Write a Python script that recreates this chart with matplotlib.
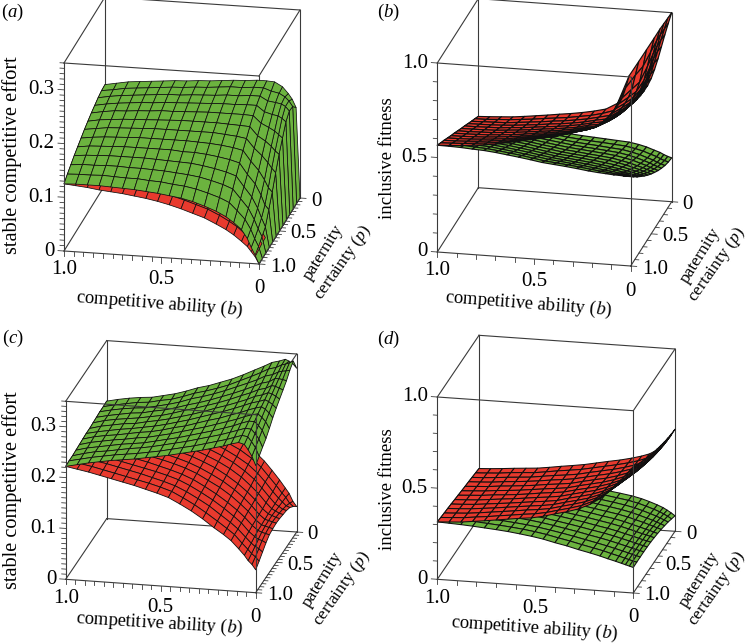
import numpy as np
import matplotlib
matplotlib.use("Agg")
import matplotlib.pyplot as plt
from mpl_toolkits.mplot3d.art3d import Poly3DCollection

plt.rcParams['font.family'] = ['Liberation Serif', 'DejaVu Serif']
plt.rcParams['mathtext.fontset'] = 'custom'
plt.rcParams['mathtext.rm'] = 'Liberation Serif'
plt.rcParams['mathtext.it'] = 'Liberation Serif:italic'

# grid nodes of every surface
B_NODES = [1, .94, .88, .82, .76, .70, .64, .58, .52, .46, .40, .34, .28, .22, .17, .13, .09, .06, .04, .02, 0]
P_NODES = [1, .917, .833, .75, .667, .583, .5, .417, .333, .25, .167, .083, 0]

# values, in thousandths: one line per b node, p running from 1 to 0
A_GREEN = [
[125,133,140,147,153,159,165,170,175,179,183,186,187],
[126,134,142,149,156,162,168,174,179,183,187,189,191],
[126,134,142,150,157,164,171,176,182,186,190,193,195],
[126,135,143,151,158,165,172,178,183,188,192,195,197],
[125,134,143,151,159,166,173,179,185,190,194,197,199],
[124,133,142,151,159,167,174,180,186,191,196,199,201],
[123,133,142,151,159,167,175,181,188,193,198,201,203],
[121,131,141,150,159,167,175,182,188,194,198,202,204],
[119,130,140,149,159,167,175,183,189,195,200,204,206],
[116,127,138,148,157,167,175,183,190,196,201,205,207],
[113,125,136,147,157,166,175,183,191,197,202,207,209],
[108,121,133,144,155,165,175,183,191,198,204,209,211],
[101,115,128,140,152,163,173,182,191,198,204,209,212],
[93,108,122,135,148,160,171,181,191,199,206,211,214],
[84,100,115,129,143,156,168,180,190,199,206,211,214],
[74,86,98,110,123,137,151,164,177,188,198,206,213],
[62,71,81,92,106,121,138,155,170,184,196,203,205],
[46,53,61,72,86,104,126,146,164,182,194,197,193],
[30,36,44,54,68,90,116,138,158,178,190,190,183],
[16,22,30,38,60,82,108,132,152,172,182,180,168],
[0,0,0,0,0,0,0,0,0,0,0,0,0],
]
A_RED = [
[125,133,140,147,153,159,165,170,175,179,183,186,187],
[123,130,137,144,150,156,162,167,171,175,179,182,183],
[121,128,135,141,147,153,158,163,168,172,175,178,179],
[118,125,132,138,144,150,155,160,164,168,171,174,175],
[116,123,129,135,141,147,152,156,160,164,167,170,171],
[114,120,127,133,138,143,148,153,157,160,163,166,167],
[111,117,123,129,134,139,144,148,152,156,159,161,162],
[108,114,120,125,130,135,140,144,148,151,154,156,157],
[104,110,115,121,126,131,135,139,143,146,149,151,152],
[99,105,110,116,121,126,130,134,138,141,144,146,147],
[93,99,104,109,114,119,123,127,131,134,137,139,140],
[86,92,97,102,107,112,116,120,124,127,130,132,133],
[79,85,90,95,100,105,109,113,116,119,122,124,125],
[69,75,80,85,90,95,99,103,106,109,112,114,115],
[60,65,71,76,81,85,89,93,96,99,102,104,105],
[51,56,61,65,70,74,77,81,84,87,89,91,92],
[40,44,48,52,56,59,63,66,68,71,73,74,75],
[31,35,38,41,44,47,50,52,54,56,58,59,60],
[22,25,27,30,32,35,37,39,41,42,43,44,45],
[13,15,17,18,20,22,24,25,26,26,27,28,28],
[0,0,0,0,0,0,0,0,0,0,0,0,0],
]
B_GREEN = [
[565,549,534,518,502,487,471,455,440,424,408,393,377],
[564,547,531,514,498,481,465,449,432,416,400,385,369],
[562,544,527,509,492,475,458,441,425,408,392,376,361],
[558,540,521,503,486,468,451,434,417,401,384,369,354],
[555,536,517,498,479,461,444,426,409,393,377,361,347],
[549,529,509,490,472,453,435,418,401,385,369,354,340],
[541,521,501,482,463,444,427,409,392,376,361,347,334],
[533,513,492,473,454,435,417,400,383,367,353,339,327],
[524,503,483,463,444,425,408,391,374,359,344,331,320],
[514,493,473,454,435,416,399,382,366,351,337,325,315],
[508,487,467,447,428,410,392,376,360,345,332,320,311],
[502,481,460,440,421,403,386,369,354,340,327,316,307],
[495,474,453,433,414,396,379,363,348,334,321,311,303],
[487,466,445,425,406,388,372,356,341,328,316,306,299],
[482,460,438,418,398,380,363,346,331,318,306,296,290],
[479,456,433,412,391,372,354,337,322,308,296,286,280],
[476,451,427,404,383,362,343,325,309,295,282,272,266],
[475,449,424,400,377,355,335,317,300,285,272,262,256],
[474,447,420,395,371,349,328,309,291,276,262,252,246],
[473,445,418,392,367,344,322,303,285,269,255,244,238],
[473,444,415,389,363,339,317,297,278,262,248,238,232],
]
B_RED = [
[565,549,534,518,502,487,471,455,440,424,408,393,377],
[568,552,535,519,503,487,471,456,440,425,410,394,380],
[572,555,538,521,505,489,473,457,442,426,412,398,384],
[578,560,542,525,508,491,475,459,443,429,414,401,388],
[585,566,548,530,513,496,480,464,449,433,420,407,395],
[593,574,555,536,519,501,485,469,453,439,426,413,403],
[605,584,564,545,526,508,492,475,460,445,432,421,411],
[617,596,575,555,535,517,499,483,467,453,440,428,420],
[630,607,585,564,544,524,506,489,473,459,446,435,428],
[642,618,595,573,552,533,514,497,481,467,455,445,438],
[655,630,607,584,563,542,524,506,491,477,465,455,450],
[672,647,623,600,578,557,538,521,505,491,479,470,465],
[692,665,640,615,592,570,549,531,515,502,493,490,500],
[712,684,660,640,623,610,600,592,588,586,590,615,650],
[730,708,688,670,655,642,632,625,622,625,640,685,730],
[750,730,712,696,682,670,660,654,652,658,680,735,795],
[775,757,741,727,715,705,698,695,700,720,765,815,860],
[800,783,769,757,747,740,737,740,755,790,835,875,910],
[820,805,792,781,773,768,770,780,805,840,875,910,940],
[835,822,810,800,794,792,798,815,845,878,910,940,970],
[850,838,828,820,815,815,822,842,870,905,940,972,1000],
]
C_GREEN = [
[222,223,223,224,225,226,227,227,228,229,230,230,231],
[227,228,229,230,231,232,232,233,234,234,235,235,236],
[232,233,234,234,235,236,236,237,238,238,239,239,240],
[236,237,237,238,239,239,240,241,241,242,242,243,243],
[240,241,241,242,242,243,243,243,244,244,244,245,245],
[243,244,245,245,246,247,247,248,248,249,249,250,250],
[246,247,248,248,249,250,251,252,252,253,254,254,255],
[250,251,252,253,254,255,256,257,258,259,260,261,262],
[254,255,257,258,259,261,262,263,265,266,268,269,270],
[258,260,262,263,265,266,268,269,271,272,274,275,276],
[263,265,267,269,271,273,275,276,278,279,281,282,284],
[268,270,273,275,277,280,282,284,285,287,289,290,292],
[273,276,279,281,284,286,289,291,293,295,298,300,302],
[279,282,285,288,291,294,297,299,302,304,307,310,313],
[284,287,291,294,297,300,304,306,309,312,315,319,322],
[289,292,296,300,303,306,310,313,316,319,323,327,330],
[293,297,301,305,308,311,314,317,320,323,327,331,334],
[290,295,300,305,310,314,318,322,326,330,333,337,338],
[280,286,292,298,304,310,315,320,325,330,335,339,335],
[268,275,282,289,296,303,310,316,322,329,336,342,330],
[250,258,266,273,283,294,303,311,319,327,338,346,322],
]
C_RED = [
[222,223,223,224,225,226,227,227,228,229,230,230,231],
[218,219,220,221,222,223,223,224,225,226,227,228,229],
[214,215,216,217,218,219,220,222,223,224,225,226,227],
[209,210,212,213,214,215,217,218,219,220,222,223,225],
[204,205,207,208,209,211,212,214,215,217,218,220,221],
[199,200,202,203,205,206,207,209,210,212,213,215,216],
[194,195,197,198,200,201,202,204,205,207,208,210,211],
[188,190,191,193,194,196,197,199,200,202,203,205,206],
[182,184,185,187,188,190,191,193,195,196,198,199,201],
[175,177,178,180,181,183,184,186,188,189,191,192,194],
[164,166,168,170,172,174,175,177,179,181,183,185,187],
[152,154,156,158,160,162,164,167,169,171,173,175,177],
[138,140,143,145,147,150,152,154,157,159,161,164,166],
[122,125,127,130,132,135,137,139,142,144,147,149,152],
[110,112,114,116,118,120,122,124,126,129,131,133,135],
[99,101,102,104,105,107,108,110,112,113,115,116,118],
[84,85,87,88,90,91,92,93,95,96,97,99,100],
[72,74,76,79,81,82,83,84,84,84,85,85,85],
[62,66,70,74,78,80,81,81,80,79,78,77,75],
[55,60,66,72,76,78,79,78,76,74,71,66,60],
[45,52,60,68,74,76,77,76,74,72,68,60,50],
]
D_GREEN = [
[315,311,307,304,300,296,292,288,284,281,277,273,269],
[312,308,305,301,298,294,290,286,282,278,274,271,267],
[309,305,301,298,294,290,286,282,278,274,270,267,263],
[305,301,297,293,289,285,282,278,274,270,267,263,260],
[300,296,292,288,284,280,277,273,269,265,262,258,255],
[295,291,287,283,279,275,271,267,263,259,255,252,248],
[289,285,281,278,274,270,266,262,258,255,251,247,243],
[281,278,274,271,267,264,260,256,252,249,245,241,238],
[272,269,265,262,258,254,250,246,243,239,235,232,228],
[261,258,254,251,247,244,240,236,232,229,225,221,218],
[246,244,242,239,236,233,230,227,223,220,216,212,208],
[233,231,229,227,224,222,219,216,212,208,205,201,197],
[217,216,215,213,211,209,207,204,201,198,195,191,188],
[203,202,201,200,199,197,195,193,190,187,184,181,178],
[190,190,189,188,187,185,183,181,178,175,172,169,166],
[178,178,178,177,176,174,172,169,166,163,160,156,153],
[167,167,167,166,165,163,160,157,154,150,146,142,138],
[158,158,158,157,156,154,151,148,144,140,135,130,125],
[152,152,152,151,150,148,146,142,137,132,126,120,113],
[146,146,146,146,145,143,140,135,130,124,117,109,100],
[140,141,141,141,140,138,134,129,123,115,107,96,85],
]
D_RED = [
[315,311,307,304,300,296,292,288,284,281,277,273,269],
[319,315,311,307,303,299,296,292,288,284,280,277,273],
[323,319,315,311,307,303,300,296,292,288,285,281,278],
[331,327,322,318,314,310,307,303,299,295,291,288,284],
[339,334,330,325,321,317,312,308,304,300,296,293,289],
[348,343,338,333,328,323,318,314,310,306,301,297,294],
[357,351,346,341,336,331,326,322,317,313,310,306,303],
[366,360,355,349,344,339,335,330,326,322,319,316,313],
[373,367,362,356,351,346,342,337,333,329,326,324,322],
[386,379,372,366,360,355,350,345,341,338,335,333,332],
[404,396,389,383,377,371,366,361,356,352,349,346,345],
[420,412,405,398,392,386,380,375,370,366,362,359,358],
[440,431,423,415,408,401,395,389,383,379,375,372,370],
[470,460,450,440,431,423,415,408,401,396,391,387,385],
[505,492,480,468,457,447,437,428,420,413,407,402,400],
[545,529,514,499,486,473,461,450,440,431,424,418,415],
[585,567,550,534,519,505,491,479,468,458,450,444,440],
[615,597,580,564,549,535,521,509,498,488,480,474,470],
[640,622,605,589,574,560,546,534,523,513,505,499,495],
[665,648,632,616,601,587,575,563,552,543,535,529,525],
[690,674,659,645,631,618,606,595,585,576,569,563,560],
]

GREEN = '#6cb33f'
RED = '#e83a2e'
LINE = '#3a3a3a'
W, H = 750, 644
Z_LABEL_1 = 'stable competitive effort'
Z_LABEL_2 = 'inclusive fitness'
X_LABEL = 'competitive ability ($\\mathit{b}$)'
P_LABEL_1 = 'paternity'
P_LABEL_2 = 'certainty ($\\mathit{p}$)'

panels = [
    dict(tag='a', green=A_GREEN, red=A_RED, org=(64, 251), ub=(195, 13), vp=(41, -66), zpx=188, ztop=.35,
         zt=[0, .1, .2, .3], ztl=['0', '0.1', '0.2', '0.3'], zmin=.01, zmaj=.1, bp=.05, front_fr=False, edge=.55,
         letter=(1, 12), zlab=(12, 155), xlab=(159, 304, -4.5), pat=(323, 252), cer=(343, 263)),
    dict(tag='b', green=B_GREEN, red=B_RED, org=(437.3, 252), ub=(193.4, 14), vp=(41, -64.3), zpx=189, ztop=1.0,
         zt=[0, .5, 1], ztl=['0', '0.5', '1.0'], zmin=.1, zmaj=.5, bp=.1, front_fr=True, edge=.85,
         letter=(377, 12), zlab=(388, 158), xlab=(528, 304, -4.5), pat=(700, 255), cer=(716.5, 265)),
    dict(tag='c', green=C_GREEN, red=C_RED, org=(65.7, 579.3), ub=(190, 13.4), vp=(41, -60.7), zpx=178, ztop=.35,
         zt=[0, .1, .2, .3], ztl=['0', '0.1', '0.2', '0.3'], zmin=.01, zmaj=.1, bp=.05, front_fr=True, edge=.6,
         letter=(2, 338), zlab=(12, 490), xlab=(159, 624, -3.5), pat=(322, 579), cer=(342, 589)),
    dict(tag='d', green=D_GREEN, red=D_RED, org=(437.3, 579.3), ub=(196, 13.7), vp=(41.7, -61.7), zpx=182.3, ztop=1.0,
         zt=[0, .5, 1], ztl=['0', '0.5', '1.0'], zmin=.1, zmaj=.5, bp=.1, front_fr=True, edge=.75,
         letter=(377, 339), zlab=(388, 489), xlab=(534, 628.5, -4), pat=(699, 579), cer=(716.5, 589)),
]

fig = plt.figure(figsize=(W / 100, H / 100), dpi=100)
fig.patch.set_facecolor('white')


def to_pixel(d, b, p, z):
    x0, y0 = d['org']
    return (x0 + (1 - b) * d['ub'][0] + (1 - p) * d['vp'][0],
            y0 + (1 - b) * d['ub'][1] + (1 - p) * d['vp'][1] - z * d['zpx'] / d['ztop'])


def make_proj(ax, d):
    """Oblique projection of (b, p, value) to figure pixels, as in the reference."""
    (x0, y0), (ux, uy), (vx, vy) = d['org'], d['ub'], d['vp']
    zs = d['zpx'] / d['ztop']
    view = np.cross([ux, vx, 0.0], [uy, vy, -d['zpx']])
    view = view / view[1]
    def get_proj():
        inv = ax.transData.inverted()
        a = inv.transform((0, 0))
        c = inv.transform((1, 1))
        sx, sy = c[0] - a[0], c[1] - a[1]
        row_x = [-ux * sx, -vx * sx, 0, a[0] + sx * (x0 + ux + vx)]
        row_y = [uy * sy, vy * sy, zs * sy, a[1] + sy * (H - y0 - uy - vy)]
        row_d = [-view[0], -view[1], view[2] / d['ztop'], view[0] + view[1]]
        return np.array([row_x, row_y, row_d, [0, 0, 0, 1.0]])
    ax.get_proj = get_proj


def surface_polys(values):
    z = np.asarray(values, float) / 1000
    polys = []
    for i in range(len(B_NODES) - 1):
        for j in range(len(P_NODES) - 1):
            polys.append([
                (B_NODES[i], P_NODES[j], z[i, j]),
                (B_NODES[i + 1], P_NODES[j], z[i + 1, j]),
                (B_NODES[i + 1], P_NODES[j + 1], z[i + 1, j + 1]),
                (B_NODES[i], P_NODES[j + 1], z[i, j + 1]),
            ])
    return polys


def px(x, y, s, **kw):
    fig.text(x / W, 1 - y / H, s, ha=kw.pop('ha', 'center'), va='center', **kw)


for d in panels:
    x0, y0 = d['org']
    ax = fig.add_axes([(x0 - 62) / W, 1 - (y0 + 60) / H, 320 / W, 320 / H], projection='3d', computed_zorder=False)
    ax.set_proj_type('ortho')
    ax.set_axis_off()
    ax.patch.set_visible(False)
    make_proj(ax, d)
    zt = d['ztop']
    zs = d['zpx'] / zt
    ux = d['ub'][0]

    def seg(a, b, z=2, lw=.8):
        ax.plot([a[0], b[0]], [a[1], b[1]], [a[2], b[2]], color=LINE, lw=lw, clip_on=False, zorder=z)

    # box edges behind the surface
    seg((1, 0, 0), (1, 0, zt), 1)
    seg((0, 0, 0), (0, 0, zt), 1)
    seg((1, 0, 0), (0, 0, 0), 1)
    seg((1, 1, 0), (1, 0, 0), 1)
    seg((1, 0, zt), (0, 0, zt), 1)
    seg((1, 1, zt), (1, 0, zt), 1)
    seg((0, 1, zt), (0, 0, zt), 1)

    polys = surface_polys(d['red']) + surface_polys(d['green'])
    colors = [RED] * (len(polys) // 2) + [GREEN] * (len(polys) // 2)
    coll = Poly3DCollection(polys, facecolors=colors, edgecolors='#101010', linewidths=d['edge'], zsort='average', zorder=2)
    coll.set_clip_on(False)
    ax.add_collection3d(coll)

    # box edges in front of the surface
    seg((1, 1, 0), (0, 1, 0), 3)
    seg((0, 1, 0), (0, 0, 0), 3)
    seg((1, 1, 0), (1, 1, zt), 3)
    seg((1, 1, zt), (0, 1, zt), 3)
    seg((0, 1, 0), (0, 1, zt), 3 if d['front_fr'] else 1)

    # ticks
    for zv in np.arange(0, zt + 1e-9, d['zmin']):
        major = abs(zv / d['zmaj'] - round(zv / d['zmaj'])) < 1e-6
        seg((1, 1, zv), (1 + (6 if major else 4) / ux, 1, zv), 3, .6)
    for bv in np.arange(0, 1 + 1e-9, d['bp']):
        major = abs(bv / .5 - round(bv / .5)) < 1e-6
        seg((bv, 1, 0), (bv, 1, -(5 if major else 4) / zs), 3, .6)
        seg((0, bv, 0), (-(6 if major else 4) / ux, bv, 0), 3, .6)

    # tick labels
    for zv, s in zip(d['zt'], d['ztl']):
        tx, ty = to_pixel(d, 1, 1, zv)
        px(tx - 9.5, ty, s, ha='right', fontsize=15)
    for bv, s in zip([1, .5, 0], ['1.0', '0.5', '0']):
        tx, ty = to_pixel(d, bv, 1, 0)
        px(tx, ty + 19 + (1 - bv) * 6, s, fontsize=15)
    for pv, s in zip([0, .5, 1], ['0', '0.5', '1.0']):
        tx, ty = to_pixel(d, 0, pv, 0)
        px(tx + 11, ty + 3, s, ha='left', fontsize=15)

    # axis titles and panel letter
    px(d['letter'][0], d['letter'][1], '($\\mathit{%s}$)' % d['tag'], fontsize=13.5, ha='left')
    if d['ztop'] < 1:
        px(d['zlab'][0], d['zlab'][1], Z_LABEL_1, fontsize=14.6, rotation=90)
    else:
        px(d['zlab'][0], d['zlab'][1], Z_LABEL_2, fontsize=13.5, rotation=90)
    px(d['xlab'][0], d['xlab'][1], X_LABEL, fontsize=13.4, rotation=d['xlab'][2], rotation_mode='anchor')
    px(d['pat'][0], d['pat'][1], P_LABEL_1, fontsize=12.6, rotation=58, rotation_mode='anchor')
    px(d['cer'][0], d['cer'][1], P_LABEL_2, fontsize=12.6, rotation=55, rotation_mode='anchor')

fig.savefig('out.png', dpi=100)
